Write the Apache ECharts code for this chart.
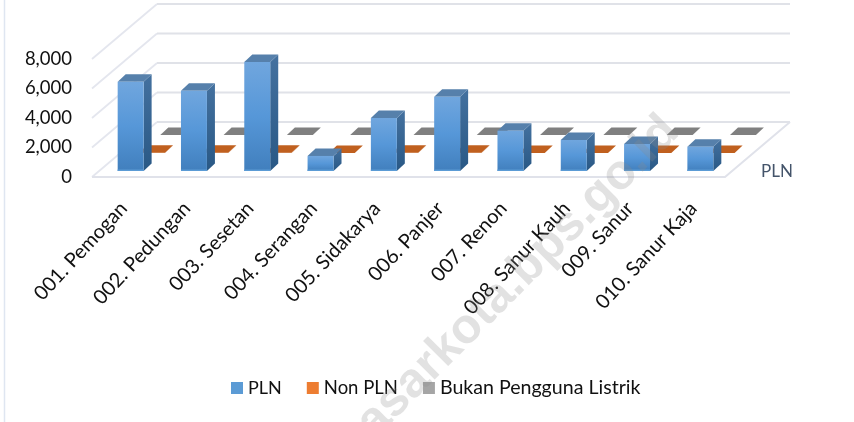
<!DOCTYPE html>
<html><head><meta charset="utf-8">
<style>html,body{margin:0;padding:0;background:#fff}#c{width:854px;height:422px}</style>
<script src="https://cdn.jsdelivr.net/npm/echarts@6/dist/echarts.min.js"></script>
</head><body><div id="c"></div>
<script>
const categories = ['001. Pemogan','002. Pedungan','003. Sesetan','004. Serangan','005. Sidakarya','006. Panjer','007. Renon','008. Sanur Kauh','009. Sanur','010. Sanur Kaja'];
const plnValues = [6050,5440,7390,1020,3590,5040,2730,2100,1830,1650];
const nonPlnValues = [12,10,14,6,9,11,8,7,6,5];
const bukanValues = [2,1,2,0,1,1,1,0,1,0];
const yTicks = [0,2000,4000,6000,8000];
const seriesNames = ['PLN','Non PLN','Bukan Pengguna Listrik'];

const FLOOR_DX = 65, FLOOR_DY = 55;      // projection of the floor depth
const ROW_DX = 21.3, ROW_DY = 18;        // per-series row step
const FIRST_DX = 7, FIRST_DY = 6;        // first row inset
const BAR_FRAC = 0.41, BAR_DX = 8, BAR_DY = 7.5;
const FONT = 'Lato, "Open Sans", sans-serif';

const paints = [
 {front:{type:'linear',x:0,y:0,x2:0,y2:1,colorStops:[{offset:0,color:'#70a6de'},{offset:.5,color:'#5697d8'},{offset:1,color:'#417fbd'}]},
  side:{type:'linear',x:0,y:0,x2:0,y2:1,colorStops:[{offset:0,color:'#44719f'},{offset:1,color:'#295885'}]},
  top:'#5680ab', foot:'#5b9bd5'},
 {front:'#c55f1e',side:'#a9511a',top:'#c0601f'},
 {front:'#7f7f7f',side:'#6f6f6f',top:'#808080'}
];

function barRenderer(row){
 return function(params, api){
  const i = api.value(0), v = api.value(1);
  const base = api.coord([i,0]), tip = api.coord([i,v]);
  const band = api.size([1,0])[0], w = band*BAR_FRAC;
  const x0 = base[0]+FIRST_DX+row*ROW_DX-w/2, x1 = x0+w;
  const yb = base[1]-FIRST_DY-row*ROW_DY, yt = tip[1]-FIRST_DY-row*ROW_DY;
  const p = paints[row], kids = [];
  const poly = (pts,fill)=>kids.push({type:'polygon',shape:{points:pts},style:{fill:fill}});
  poly([[x1,yt],[x1+BAR_DX,yt-BAR_DY],[x1+BAR_DX,yb-BAR_DY],[x1,yb]],p.side);
  poly([[x0,yt],[x0+BAR_DX,yt-BAR_DY],[x1+BAR_DX,yt-BAR_DY],[x1,yt]],p.top);
  poly([[x0,yt],[x1,yt],[x1,yb],[x0,yb]],p.front);
  if(p.foot) poly([[x0,yb-1.5],[x1,yb-1.5],[x1,yb],[x0,yb]],p.foot);
  return {type:'group',children:kids};
 };
}
function wallRenderer(params, api){
 const v = api.value(1);
 const a = api.coord([0,v]), b = api.coord([categories.length-1,v]);
 const band = api.size([1,0])[0];
 const xl = a[0]-band/2, xr = b[0]+band/2, y = a[1];
 const kids = [
  {type:'polyline',shape:{points:[[xl,y],[xl+FLOOR_DX,y-FLOOR_DY]]},style:{stroke:'#e4e6ee',lineWidth:1.8,fill:null}},
  {type:'polyline',shape:{points:[[xl+FLOOR_DX,y-FLOOR_DY],[xr+FLOOR_DX,y-FLOOR_DY]]},style:{stroke:'#e0e2e8',lineWidth:2,fill:null}}
 ];
 if(v===0) kids.push({type:'polyline',shape:{points:[[xl,y],[xr,y],[xr+FLOOR_DX,y-FLOOR_DY]]},style:{stroke:'#e0e2ea',lineWidth:2,fill:null}});
 return {type:'group',children:kids};
}
const mk = (name,vals,row,color)=>({name,type:'custom',coordinateSystem:'cartesian2d',z:5-row,
  renderItem:barRenderer(row),itemStyle:{color},encode:{x:0,y:1},
  data:vals.map((v,i)=>[i,v])});

const chart = echarts.init(document.getElementById('c'),null,{renderer:'canvas'});
chart.setOption({
 animation:false,
 grid:{left:92,top:59,width:633,height:118},
 xAxis:{type:'category',data:categories,axisLine:{show:false},axisTick:{show:false},splitLine:{show:false},
  axisLabel:{rotate:47,interval:0,margin:28,color:'#111',fontFamily:FONT,fontSize:20}},
 yAxis:{type:'value',min:0,max:8000,interval:2000,axisLine:{show:false},axisTick:{show:false},splitLine:{show:false},
  axisLabel:{margin:20,color:'#111',fontFamily:FONT,fontSize:18.5,padding:[14,0,0,0],formatter:v=>v.toLocaleString('en-US')}},
 legend:{data:[{name:seriesNames[0]},{name:seriesNames[1],textStyle:{fontSize:18.5}},{name:seriesNames[2],textStyle:{fontSize:19.6}}],
  left:231,top:378,icon:'rect',itemWidth:12,itemHeight:12,itemGap:25,padding:0,
  textStyle:{color:'#111',fontFamily:FONT,fontSize:18}},
 graphic:[
  {type:'line',shape:{x1:4.5,y1:0,x2:4.5,y2:422},style:{stroke:'#dfe6f1',lineWidth:1.5},silent:true},
  {type:'text',x:761,y:163,style:{text:'PLN',fill:'#44546a',font:'17px '+FONT},silent:true},
  {type:'text',x:671,y:124,rotation:Math.PI/4,z:100,style:{text:'denpasarkota.bps.go.id',fill:'rgba(140,140,140,0.25)',font:'bold 49px "Liberation Sans", sans-serif',align:'right',verticalAlign:'middle'},silent:true}
 ],
 series:[
  {name:'walls',type:'custom',coordinateSystem:'cartesian2d',z:1,renderItem:wallRenderer,encode:{x:0,y:1},silent:true,data:yTicks.map(v=>[0,v])},
  mk(seriesNames[0],plnValues,0,'#5b9bd5'),
  mk(seriesNames[1],nonPlnValues,1,'#ed7d31'),
  mk(seriesNames[2],bukanValues,2,'#a5a5a5')
 ]
});
</script></body></html>
